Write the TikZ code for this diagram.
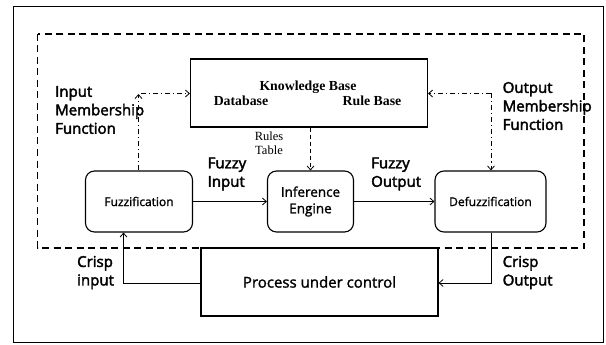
\documentclass[tikz,border=0pt]{standalone}
\usepackage{fontspec}
\setmainfont{Liberation Serif}
\setsansfont{Open Sans}
\newfontfamily\labfont[FakeBold=2.5]{Open Sans}
\newfontfamily\boxfont[FakeBold=1.5]{Open Sans}
\usetikzlibrary{arrows.meta}
\begin{document}
\begin{tikzpicture}[x=1pt,y=-1pt,
  every node/.style={inner sep=0pt},
  block/.style={draw,line width=1.1pt,rounded corners=9pt},
  plainbox/.style={draw,line width=1.1pt},
  lab/.style={font=\labfont\fontsize{15}{18.5}\selectfont,align=left},
  kbfont/.style={font=\bfseries\fontsize{13.8}{15}\selectfont},
  flow/.style={line width=0.8pt,-{Straight Barb[length=4pt,width=7pt]}},
  dd/.style={line width=0.8pt,dash pattern=on 5pt off 3pt on 1pt off 3pt},
  tipb/.style={-{Straight Barb[length=4pt,width=7pt]}}]
\useasboundingbox (0,0) rectangle (606,345);
% outer frame and dashed controller boundary
\draw[line width=1pt] (13,6.5) rectangle (603,342.5);
\draw[line width=1.2pt,dash pattern=on 7pt off 4.5pt] (37.5,34) rectangle (584,248);

% knowledge base
\node[plainbox,minimum width=237pt,minimum height=68pt] (kb) at (309,93) {};
\node[kbfont] (kbt) at (308,87) {Knowledge Base};
\node[kbfont] (db) at (241,100.5) {Database};
\node[kbfont] (rb) at (372,100.5) {Rule Base};

% processing blocks
\node[block,minimum width=107pt,minimum height=61pt,font=\boxfont\fontsize{12}{14}\selectfont] (fz) at (139,201.5)
  {Fuzzification};
\node[block,minimum width=86pt,minimum height=61pt,align=center,font=\boxfont\fontsize{13.5}{16.5}\selectfont] (ie) at (310.5,201.5)
  {Inference\\Engine};
\node[block,minimum width=111pt,minimum height=61pt,font=\boxfont\fontsize{12}{14}\selectfont] (dz) at (490.5,201.5)
  {Defuzzification};
\node[plainbox,minimum width=237pt,minimum height=68pt,font=\boxfont\fontsize{15}{18}\selectfont] (pc) at (319.5,282)
  {Process under control};

% labels
\node[lab,anchor=west] (iml) at (55,110) {Input\\Membership\\Function};
\node[lab,anchor=west] (oml) at (502.5,106) {Output\\Membership\\Function};
\node[lab,anchor=west] (fil) at (207.5,174) {Fuzzy\\Input};
\node[lab,anchor=west] (fol) at (371,174) {Fuzzy\\Output};
\node[lab,anchor=west] (cil) at (77,272.5) {Crisp\\input};
\node[lab,anchor=west] (col) at (502.5,272.5) {Crisp\\Output};
\node[font=\fontsize{12.5}{14.5}\selectfont,align=center] (rt) at (269,143) {Rules\\Table};

% helper points
\coordinate (imt) at (138.5,94);
\coordinate (imh) at (141,93.5);
\coordinate (omc) at (491,93.5);
\coordinate (cic) at (123.5,283);
\coordinate (coc) at (491,283);

% membership function links
\draw[dd,tipb] (fz.north -| imt) -- (imt);
\draw[dd,tipb] (imh) -- (kb.west |- imh);
\draw[dd,tipb] (omc) -- (kb.east |- omc);
\draw[dd,tipb] (omc) -- (dz.north -| omc);
\draw[line width=0.8pt,dash pattern=on 4pt off 3pt,tipb] (kb.south -| ie.north) -- (ie.north);

% main signal flow
\draw[flow] (fz.east) -- (ie.west);
\draw[flow] (ie.east) -- (dz.west);
\draw[flow] (pc.west |- cic) -- (cic) -- (fz.south -| cic);
\draw[flow] (dz.south -| coc) -- (coc) -- (pc.east |- coc);
\end{tikzpicture}
\end{document}
